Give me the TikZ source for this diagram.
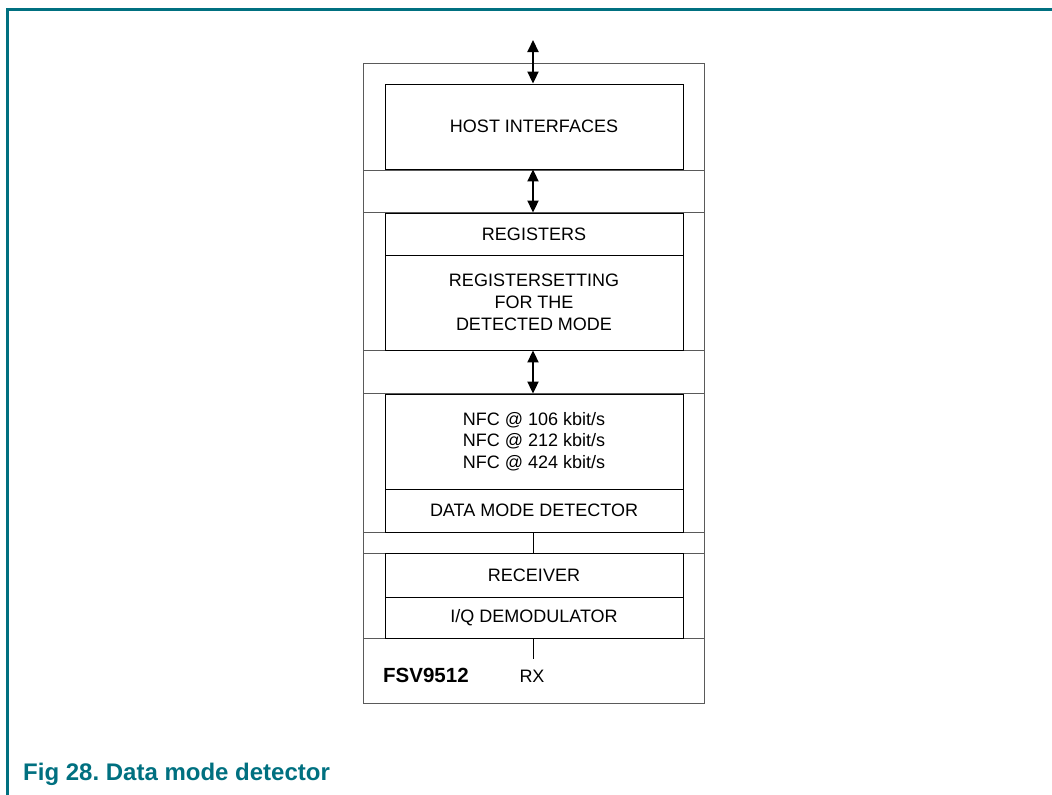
\documentclass[tikz,border=0pt]{standalone}
\usepackage{fontspec}
\setmainfont{Liberation Sans}
\usetikzlibrary{arrows.meta}
\definecolor{teal}{RGB}{0,112,128}
\definecolor{frame}{RGB}{90,90,90}
\tikzset{
  blk/.style={draw=black, line width=0.9pt, rectangle, inner sep=0pt, minimum width=298pt, align=center,
    font=\fontsize{18}{22}\selectfont},
  band/.style={draw=frame, line width=0.9pt, rectangle, inner sep=0pt, minimum width=341pt},
  bus/.style={line width=2pt, {Triangle[length=12pt,width=11pt]}-{Triangle[length=12pt,width=11pt]}},
  wire/.style={line width=0.9pt, draw=black}
}
\frenchspacing
\begin{document}
\begin{tikzpicture}[x=1pt,y=-1pt]
\useasboundingbox (0,0) rectangle (1052,795);
% teal frame
\draw[teal, line width=2.8pt] (7.3,795) -- (7.3,9.7) -- (1052,9.7);
% chip outline
\node[draw=frame, line width=0.9pt, rectangle, inner sep=0pt, minimum width=341pt, minimum height=640pt] (chip) at (533.5,383) {};
% bands
\node[band, minimum height=42pt] (band1) at (533.5,191) {};
\node[band, minimum height=43pt] (band2) at (533.5,371.5) {};
\node[band, minimum height=21pt] (band3) at (533.5,542.5) {};
\node[band, minimum height=65pt] (band4) at (533.5,670.5) {};
% blocks
\node[blk, minimum height=85pt] (host) at (534,126.5) {HOST INTERFACES};
\node[blk, minimum height=42pt] (reg) at (534,234) {REGISTERS};
\node[blk, minimum height=95pt] (regset) at (534,302.5) {REGISTERSETTING\\FOR THE\\DETECTED MODE};
\node[blk, minimum height=95pt, font=\fontsize{18}{21.7}\selectfont] (nfc) at (534,441.5) {NFC @ 106 kbit/s\\NFC @ 212 kbit/s\\NFC @ 424 kbit/s};
\node[blk, minimum height=43pt] (dmd) at (534,510.5) {DATA MODE DETECTOR};
\node[blk, minimum height=44pt] (recv) at (534,575) {RECEIVER};
\node[blk, minimum height=41pt] (iq) at (534,617.5) {I/Q DEMODULATOR};
% labels
\node[font=\fontsize{20.5}{24}\selectfont\bfseries, anchor=base west, inner sep=0pt] (chipname) at (383,682) {FSV9512};
\node[font=\fontsize{18}{22}\selectfont, anchor=base, inner sep=0pt] (rx) at (532,682) {RX};
\coordinate (hostin) at (533,40);
\coordinate (rxend) at (533,659);
% connectors
\draw[bus] (hostin) -- (hostin |- host.north);
\draw[bus] (hostin |- host.south) -- (hostin |- reg.north);
\draw[bus] (hostin |- regset.south) -- (hostin |- nfc.north);
\draw[wire] (hostin |- dmd.south) -- (hostin |- recv.north);
\draw[wire] (hostin |- iq.south) -- (rxend);
% caption
\node[font=\fontsize{24}{28}\selectfont\bfseries, text=teal, anchor=base west, inner sep=0pt] (caption) at (23,780) {Fig 28. Data mode detector};
\end{tikzpicture}
\end{document}
